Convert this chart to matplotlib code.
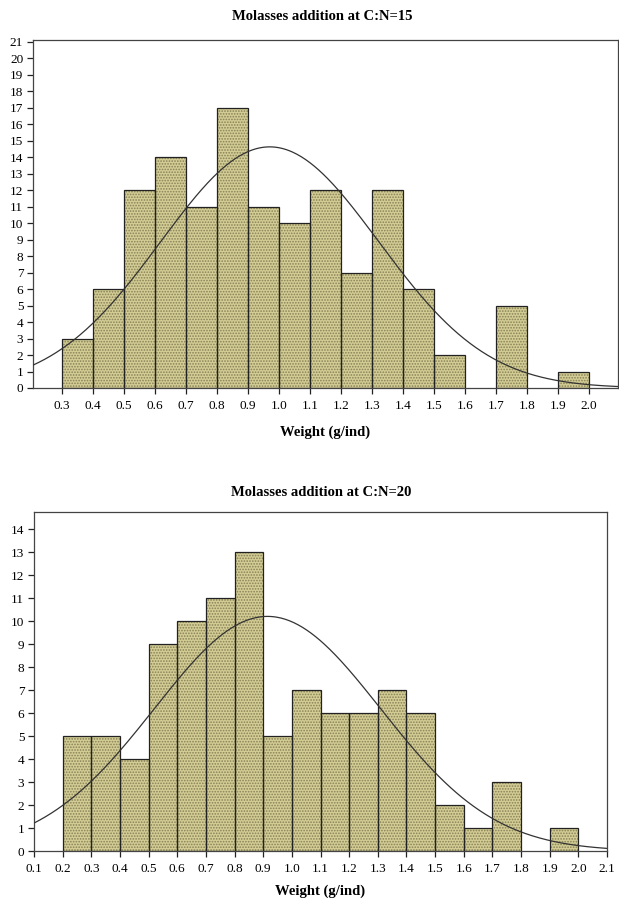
import numpy as np
import matplotlib
matplotlib.use("Agg")
import matplotlib.pyplot as plt

# bin counts, bins of width 0.1
edges_15 = [0.3, 0.4, 0.5, 0.6, 0.7, 0.8, 0.9, 1.0, 1.1, 1.2, 1.3, 1.4, 1.5, 1.6, 1.7, 1.8, 1.9]
counts_15 = [3, 6, 12, 14, 11, 17, 11, 10, 12, 7, 12, 6, 2, 0, 5, 0, 1]
mean_15, sd_15 = 0.97, 0.352

edges_20 = [0.2, 0.3, 0.4, 0.5, 0.6, 0.7, 0.8, 0.9, 1.0, 1.1, 1.2, 1.3, 1.4, 1.5, 1.6, 1.7, 1.8, 1.9]
counts_20 = [5, 5, 4, 9, 10, 11, 13, 5, 7, 6, 6, 7, 6, 2, 1, 3, 0, 1]
mean_20, sd_20 = 0.915, 0.395

xticks_15 = [0.3, 0.4, 0.5, 0.6, 0.7, 0.8, 0.9, 1.0, 1.1, 1.2, 1.3, 1.4, 1.5, 1.6, 1.7, 1.8, 1.9, 2.0]
xticks_20 = [0.1, 0.2, 0.3, 0.4, 0.5, 0.6, 0.7, 0.8, 0.9, 1.0, 1.1, 1.2, 1.3, 1.4, 1.5, 1.6, 1.7, 1.8, 1.9, 2.0, 2.1]

BIN = 0.1
SERIF = ["Liberation Serif", "DejaVu Serif"]
plt.rcParams['hatch.linewidth'] = 0.8


def draw_hist(ax, edges, counts, mean, sd, xlim, ylim, xticks, yticks):
    edges = np.array(edges)
    counts = np.array(counts)
    keep = counts > 0
    # dithered fill: khaki with dark dot hatch
    ax.bar(edges[keep], counts[keep], width=BIN, align='edge', color='#d3cc95',
           edgecolor='#868155', hatch='......', linewidth=0, zorder=2)
    ax.bar(edges[keep], counts[keep], width=BIN, align='edge', fill=False,
           edgecolor='#222222', linewidth=0.9, zorder=3)
    n = counts.sum()
    xs = np.linspace(xlim[0], xlim[1], 400)
    ys = n * BIN / (sd * np.sqrt(2 * np.pi)) * np.exp(-0.5 * ((xs - mean) / sd) ** 2)
    ax.plot(xs, ys, color='#333333', linewidth=0.9, zorder=4)
    ax.set_xlim(*xlim)
    ax.set_ylim(*ylim)
    ax.set_xticks(xticks)
    ax.set_xticklabels(["%.1f" % t for t in xticks], family=SERIF, fontsize=9.5)
    ax.set_yticks(yticks)
    ax.set_yticklabels([str(t) for t in yticks], family=SERIF, fontsize=9.5)
    ax.tick_params(direction='out', length=4.5, width=0.9, color='#222222', pad=2.5)
    ax.tick_params(axis='x', pad=4)
    for s in ax.spines.values():
        s.set_linewidth(0.9)
        s.set_color('#444444')


fig = plt.figure(figsize=(6.19, 9.01), dpi=100)

ax1 = fig.add_axes([33 / 619, 513 / 901, 585 / 619, 348 / 901])
draw_hist(ax1, edges_15, counts_15, mean_15, sd_15, (0.206, 2.094), (0, 21.1),
          xticks_15, list(range(0, 22)))

ax2 = fig.add_axes([34 / 619, 50 / 901, 573 / 619, 339 / 901])
draw_hist(ax2, edges_20, counts_20, mean_20, sd_20, (0.1, 2.1), (0, 14.74),
          xticks_20, list(range(0, 15)))

fig.text(322 / 619, 1 - 16 / 901, "Molasses addition at C:N=15", ha='center', va='center',
         family=SERIF, fontsize=10.5, fontweight='bold')
fig.text(325 / 619, 1 - 432 / 901, "Weight (g/ind)", ha='center', va='center',
         family=SERIF, fontsize=10.5, fontweight='bold')
fig.text(321 / 619, 1 - 493 / 901, "Molasses addition at C:N=20", ha='center', va='center',
         family=SERIF, fontsize=10.5, fontweight='bold')
fig.text(320 / 619, 1 - 891 / 901, "Weight (g/ind)", ha='center', va='center',
         family=SERIF, fontsize=10.5, fontweight='bold')

fig.savefig("out.png", dpi=100)
